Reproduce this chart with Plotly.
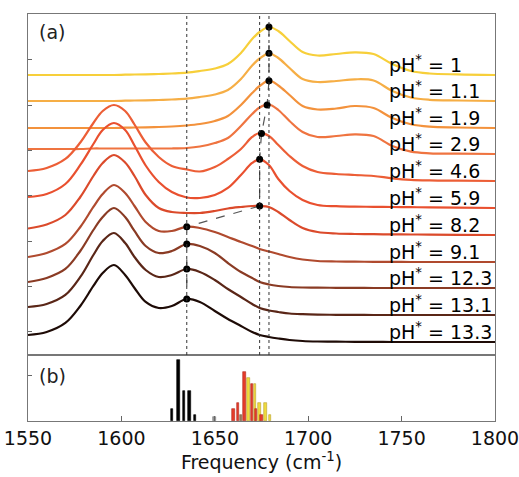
import numpy as np
import plotly.graph_objects as go

# ---------------- data ----------------
freq = [1550, 1560, 1570, 1578, 1585, 1590, 1596, 1602, 1607, 1613, 1620, 1627,
        1635, 1642, 1650, 1657, 1664, 1670, 1674, 1679, 1684, 1690, 1697, 1705,
        1715, 1725, 1735, 1745, 1755, 1765, 1780, 1800]

ph_labels = ["1", "1.1", "1.9", "2.9", "4.6", "5.9", "8.2", "9.1", "12.3", "13.1", "13.3"]

# vertical stacking offset of every spectrum (arbitrary units)
offsets = [267, 241, 214, 188, 161, 134, 107, 80, 54, 27, 0]

spec_ph1 = [0, 0, 0, 0, 0, 0, 0, 0.3, 0.5, 0.7, 1, 1.5, 2.3, 4, 6.5, 11, 22, 36, 43, 48,
            44, 34, 23, 19.5, 21, 22.7, 21, 11, 4, 1.5, 0.6, 0]
spec_ph1_1 = [0, 0, 0, 0, 0, 0, 0, 0.3, 0.5, 0.7, 1, 1.5, 2.3, 4, 6.5, 11, 22, 35.5, 42.5, 47.7,
              43, 33, 22, 19, 20, 21.7, 20.5, 10, 3.5, 1.2, 0.5, 0]
spec_ph1_9 = [0, 0, 0, 0, 0, 0, 0, 0.3, 0.5, 0.7, 1, 1.5, 2.5, 4, 7, 12, 23, 35, 42, 47.3,
              42.5, 33, 22, 18.5, 19.5, 22, 20, 10, 3.7, 1.3, 0.5, 0]
spec_ph2_9 = [5, 5, 5, 5, 5.5, 5.5, 5.5, 5.5, 5.5, 5.5, 5.5, 5.5, 6, 7.5, 11, 16, 28, 40, 46.5, 49.5,
              44, 33, 22, 17, 18, 19.7, 18, 8, 2.3, 0.7, 0.3, 0]
spec_ph4_6 = [10, 13, 22, 38.5, 58, 70, 76, 70, 56.5, 38.5, 24, 15, 11.5, 9.5, 14, 22, 32, 44, 48, 45,
              36, 25, 15, 9, 7, 6, 5, 2.7, 1.2, 0.6, 0.3, 0]
spec_ph5_9 = [11, 14, 24, 43, 64, 78, 85, 78, 62.5, 42.5, 26, 16, 10.5, 10, 13, 20, 33, 45, 48.7, 43,
              29, 17, 8, 3, 1.8, 1.3, 1.2, 1, 0.8, 0.6, 0.3, 0]
spec_ph8_2 = [6.5, 10.5, 20, 38, 59, 72, 80, 72.5, 59, 40, 27, 23, 22, 22, 24, 26.5, 28, 29, 29, 28,
              23, 15, 7, 3, 1.5, 1, 0.8, 0.6, 0.5, 0.4, 0.2, 0]
spec_ph9_1 = [5, 9, 18, 35, 55, 68, 77, 69, 56, 40, 31, 31, 35.3, 34, 30, 25, 20, 16, 13, 10.5,
              8, 5, 2.5, 1, 0.5, 0.3, 0.2, 0.1, 0, 0, 0, 0]
spec_ph12_3 = [6, 10, 19, 37, 58, 71, 80, 71, 57, 42, 35, 37, 44, 42, 35, 25, 16, 10, 6, 3.5,
               2, 1, 0.5, 0.3, 0.2, 0.1, 0, 0, 0, 0, 0, 0]
spec_ph13_1 = [8, 11, 20, 38, 60, 74, 82, 72, 58, 45, 38, 40, 46, 43, 35, 26, 18, 11, 7, 4.5,
               3, 1.5, 0.8, 0.4, 0.2, 0.1, 0, 0, 0, 0, 0, 0]
spec_ph13_3 = [7, 10, 19, 36, 56, 69, 77, 67, 54, 40, 34, 36, 43, 40, 31, 23, 16, 10, 7, 5,
               3.5, 2, 1, 0.5, 0.3, 0.2, 0.1, 0, 0, 0, 0, 0]

spectra = [spec_ph1, spec_ph1_1, spec_ph1_9, spec_ph2_9, spec_ph4_6, spec_ph5_9,
           spec_ph8_2, spec_ph9_1, spec_ph12_3, spec_ph13_1, spec_ph13_3]

# marked peak position of each spectrum
peak_freq = [1679, 1679, 1679, 1678, 1675, 1674, 1674, 1635, 1635, 1635, 1635]

# reference frequencies (dotted vertical lines)
ref_lines = [1635, 1674, 1679]

# panel (b): computed frequency histogram
bars_black_f = [1627, 1630.5, 1633.5, 1636.5, 1639.5]
bars_black_n = [2, 10, 5, 5, 1]
bars_gray_f = [1650]
bars_gray_n = [0.7]
bars_yellow_f = [1668, 1671.5, 1674, 1677, 1679.5]
bars_yellow_n = [7, 6, 3, 3, 1]
bars_red_f = [1660, 1662.5, 1666, 1670, 1672, 1675]
bars_red_n = [2, 3, 8, 6, 2, 1]
bars_brown_f = [1664]
bars_brown_n = [1]

colors = ["#F7CF3A", "#F6AE45", "#F3923C", "#EF7440", "#EC5E36", "#E9502F",
          "#DB4A2B", "#B04A2E", "#8A3B24", "#5A2617", "#1E0B06"]

FONT = "DejaVu Sans"

fig = go.Figure()

# ---------------- panel (a) ----------------
for spec, off, col in zip(spectra, offsets, colors):
    fig.add_trace(go.Scatter(
        x=freq, y=[v + off for v in spec], mode="lines",
        line=dict(color=col, width=2.2, shape="spline", smoothing=1.0),
        xaxis="x2", yaxis="y2", showlegend=False, hoverinfo="skip"))

dot_y = [float(np.interp(f, freq, s)) + o for f, s, o in zip(peak_freq, spectra, offsets)]

fig.add_trace(go.Scatter(
    x=peak_freq, y=dot_y, mode="lines",
    line=dict(color="#555555", width=1.2, dash="dash"),
    xaxis="x2", yaxis="y2", showlegend=False, hoverinfo="skip"))
fig.add_trace(go.Scatter(
    x=peak_freq, y=dot_y, mode="markers",
    marker=dict(color="black", size=7),
    xaxis="x2", yaxis="y2", showlegend=False, hoverinfo="skip"))

for f in ref_lines:
    fig.add_shape(type="line", xref="x2", yref="y2 domain", x0=f, x1=f, y0=0, y1=1,
                  line=dict(color="#333333", width=1, dash="dot"))

for lab, off in zip(ph_labels, offsets):
    fig.add_annotation(x=1742, y=off + 11, xref="x2", yref="y2",
                       text="pH<sup>*</sup> = " + lab, showarrow=False,
                       xanchor="left", yanchor="middle",
                       font=dict(family=FONT, size=19, color="black"))

fig.add_annotation(x=1555, y=310, xref="x2", yref="y2", text="(a)", showarrow=False,
                   xanchor="left", yanchor="middle", font=dict(family=FONT, size=19, color="#222"))

# ---------------- panel (b) ----------------
def add_bars(fx, n, col, edge):
    fig.add_trace(go.Bar(x=fx, y=n, width=1.4, marker=dict(color=col, line=dict(color=edge, width=0.6)),
                         xaxis="x", yaxis="y", showlegend=False, hoverinfo="skip"))

add_bars(bars_yellow_f, bars_yellow_n, "#EEDB3C", "#B8A030")
add_bars(bars_red_f, bars_red_n, "#E63B2A", "#B02A1E")
add_bars(bars_brown_f, bars_brown_n, "#9C7A5A", "#7A5A40")
add_bars(bars_gray_f, bars_gray_n, "#999999", "#777777")
add_bars(bars_black_f, bars_black_n, "#000000", "#000000")

fig.add_annotation(x=1555, y=7.43, xref="x", yref="y", text="(b)", showarrow=False,
                   xanchor="left", yanchor="middle", font=dict(family=FONT, size=19, color="#222"))

axis_common = dict(showline=True, mirror=True, linecolor="#777777", linewidth=1,
                   showgrid=False, zeroline=False, automargin=False)

fig.update_layout(
    width=519, height=477,
    margin=dict(l=28, r=24, t=14, b=56, autoexpand=False),
    paper_bgcolor="white", plot_bgcolor="white",
    barmode="overlay", bargap=0,
    font=dict(family=FONT, color="#111111"),
    xaxis=dict(domain=[0, 1], range=[1550, 1800], anchor="y",
               tickvals=[1550, 1600, 1650, 1700, 1750, 1800],
               ticks="inside", ticklen=5, tickcolor="#666666",
               ticklabeloverflow="allow",
               tickfont=dict(family=FONT, size=19, color="#111111"),
               title=dict(text="Frequency (cm<sup>-1</sup>)", standoff=6,
                          font=dict(family=FONT, size=19, color="#111111")),
               **axis_common),
    yaxis=dict(domain=[0, 0.1622], range=[0, 10.82], anchor="x",
               tickvals=[7.43], ticks="inside", ticklen=4, tickcolor="#666666",
               showticklabels=False, **axis_common),
    xaxis2=dict(domain=[0, 1], range=[1550, 1800], anchor="y2",
                showticklabels=False, ticks="", **axis_common),
    yaxis2=dict(domain=[0.1622, 1], range=[-13, 328], anchor="x2",
                tickvals=[10 + 45.4 * k for k in range(8)], ticks="inside", ticklen=4,
                tickcolor="#666666", showticklabels=False, **axis_common),
)

fig.write_html("out.html", config={"displayModeBar": False},
               post_script="document.body.style.margin='0';document.body.style.overflow='hidden';")
